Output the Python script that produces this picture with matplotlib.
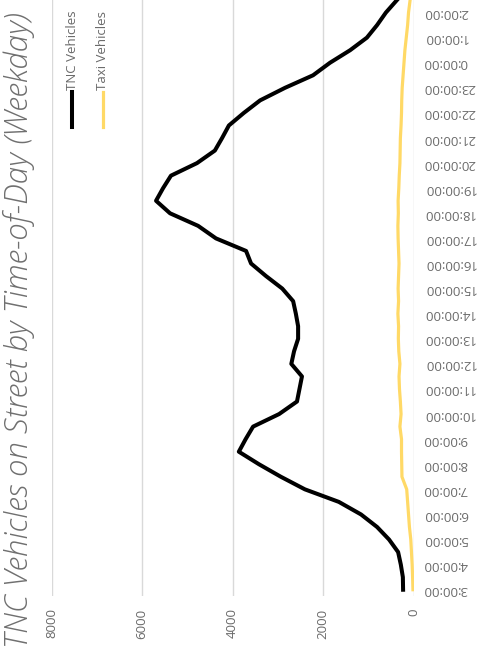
import numpy as np
import matplotlib
matplotlib.use("Agg")
import matplotlib.pyplot as plt
from matplotlib.lines import Line2D

plt.rcParams['font.family'] = ['Open Sans', 'DejaVu Sans']

# Hourly axis labels, 3am through 2am the next day
time_labels = ["3:00:00", "4:00:00", "5:00:00", "6:00:00", "7:00:00", "8:00:00",
               "9:00:00", "10:00:00", "11:00:00", "12:00:00", "13:00:00", "14:00:00",
               "15:00:00", "16:00:00", "17:00:00", "18:00:00", "19:00:00", "20:00:00",
               "21:00:00", "22:00:00", "23:00:00", "0:00:00", "1:00:00", "2:00:00"]

# Vehicles on street, sampled every half hour starting at 3:00
tnc = [230, 235, 280, 340, 540, 805, 1160, 1650, 2400, 2930, 3415, 3860,
       3710, 3545, 2970, 2575, 2520, 2465, 2700, 2640, 2550, 2550, 2600, 2660,
       2900, 3260, 3590, 3700, 4365, 4760, 5380, 5690, 5535, 5360, 4785, 4390,
       4230, 4080, 3750, 3390, 2840, 2220, 1845, 1400, 1030, 805, 610, 365]
taxi = [12, 20, 30, 45, 60, 90, 110, 130, 150, 255, 260, 265,
        265, 300, 275, 290, 310, 320, 300, 325, 335, 330, 345, 330,
        340, 330, 320, 330, 340, 345, 335, 340, 325, 315, 300, 295,
        290, 275, 265, 260, 250, 230, 210, 190, 160, 130, 110, 75]

value_ticks = [0, 2000, 4000, 6000, 8000]
title = "TNC Vehicles on Street by Time-of-Day (Weekday)"

W, H = 480, 672
fig = plt.figure(figsize=(W / 100, H / 100), dpi=100)
ax = fig.add_axes([51.5 / W, 76 / H, 362 / W, 596 / H])

pos = np.arange(len(tnc)) / 2.0  # hours after 3:00
ax.plot(taxi, pos, color='#ffd966', lw=2.3, solid_joinstyle='round')
ax.plot(tnc, pos, color='black', lw=2.9, solid_joinstyle='round')

ax.set_xlim(8000, 0)
ax.set_ylim(-0.25, 23.5)
ax.set_xticks(value_ticks)
ax.set_xticklabels([str(v) for v in value_ticks])
ax.tick_params(axis='x', length=0, pad=9, labelrotation=90,
               labelsize=9.5, labelcolor='#6a6a6a')

ax.yaxis.tick_right()
ax.set_yticks(range(len(time_labels)))
ax.set_yticklabels(time_labels, va='center')
ax.tick_params(axis='y', length=0, pad=7, labelrotation=180,
               labelsize=9.5, labelcolor='#6a6a6a')

ax.grid(axis='x', color='#d9d9d9', lw=1)
ax.set_axisbelow(True)
for s in ax.spines.values():
    s.set_visible(False)

fig.text(19 / W, 1 - 330 / H, title, rotation=90, ha='center', va='center',
         fontsize=22.5, style='italic', fontweight='light', color='#6f6f6f')

# legend drawn upright like the rest of the chart
for xp, name, col, lw in [(72, "TNC Vehicles", 'black', 2.9),
                          (103, "Taxi Vehicles", '#ffd966', 2.3)]:
    fig.add_artist(Line2D([xp / W, xp / W], [1 - 92 / H, 1 - 127 / H],
                          color=col, lw=lw, transform=fig.transFigure))
    fig.text(xp / W, 1 - 90 / H, name, rotation=90, ha='center', va='bottom',
             fontsize=9.5, color='#6a6a6a')

fig.savefig("out.png", dpi=100)
